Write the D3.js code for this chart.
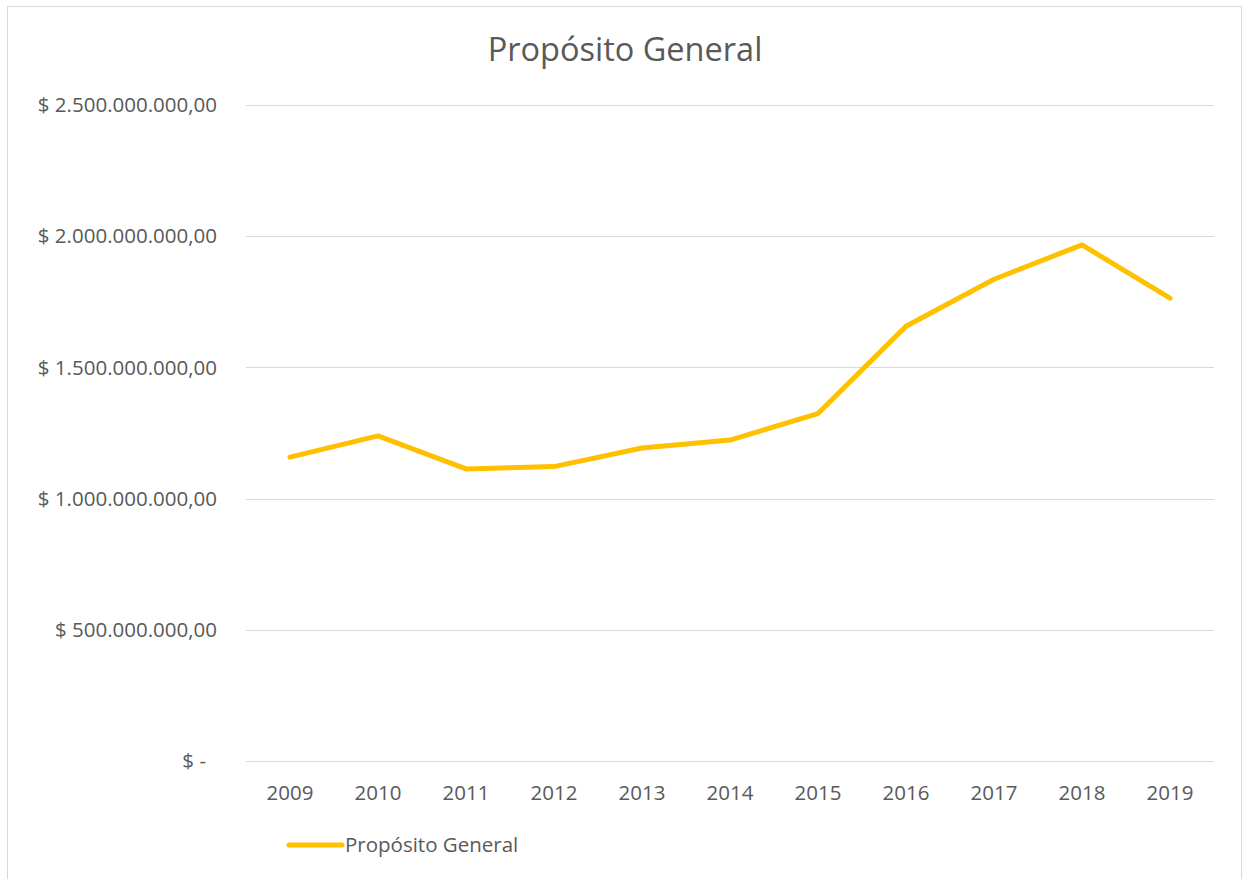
<!DOCTYPE html>
<html>
<head>
<meta charset="utf-8">
<script src="https://cdn.jsdelivr.net/npm/d3@7"></script>
<style>
  body { margin: 0; background: #fff; }
  text { font-family: "Open Sans", "Liberation Sans", sans-serif; fill: #595959; }
</style>
</head>
<body>
<svg></svg>
<script>
const years = ["2009", "2010", "2011", "2012", "2013", "2014", "2015", "2016", "2017", "2018", "2019"];
const values = [1158000000, 1239000000, 1113000000, 1122000000, 1193000000, 1223000000, 1324000000, 1657000000, 1836000000, 1967000000, 1764000000];
const yTicks = [0, 500000000, 1000000000, 1500000000, 2000000000, 2500000000];
const seriesName = "Propósito General";

const width = 1243;
const height = 879;
const margin = {left: 246, right: 29, top: 105, bottom: 118};
const lineColor = "#ffc000";

const svg = d3.select("svg")
    .attr("width", width)
    .attr("height", height);

// chart border
svg.append("rect")
    .attr("x", 7.5)
    .attr("y", 6.5)
    .attr("width", width - 9)
    .attr("height", height + 10)
    .attr("fill", "white")
    .attr("stroke", "#d9d9d9");

const x = d3.scaleBand()
    .domain(years)
    .range([margin.left, width - margin.right]);

const y = d3.scaleLinear()
    .domain([0, 2500000000])
    .range([height - margin.bottom, margin.top]);

const fmt = v => {
    if (v === 0) return "$ -";
    const s = d3.format(",.2f")(v).replace(/,/g, "#").replace(".", ",").replace(/#/g, ".");
    return "$ " + s;
};

// gridlines
svg.append("g")
    .selectAll("line")
    .data(yTicks)
    .enter()
    .append("line")
    .attr("x1", margin.left)
    .attr("x2", width - margin.right)
    .attr("y1", d => Math.round(y(d)) + 0.5)
    .attr("y2", d => Math.round(y(d)) + 0.5)
    .attr("stroke", "#d9d9d9")
    .attr("stroke-width", 1);

// y labels
svg.append("g")
    .selectAll("text")
    .data(yTicks)
    .enter()
    .append("text")
    .attr("x", d => d === 0 ? 206 : 217)
    .attr("y", d => y(d))
    .attr("dy", "0.35em")
    .attr("text-anchor", "end")
    .style("font-size", "20.5px")
    .text(fmt);

// x labels
svg.append("g")
    .selectAll("text")
    .data(years)
    .enter()
    .append("text")
    .attr("x", d => x(d) + x.bandwidth() / 2)
    .attr("y", 793)
    .attr("dy", "0.35em")
    .attr("text-anchor", "middle")
    .style("font-size", "20.5px")
    .text(d => d);

// line
const line = d3.line()
    .x((d, i) => x(years[i]) + x.bandwidth() / 2)
    .y(d => y(d));

svg.append("path")
    .datum(values)
    .attr("d", line)
    .attr("fill", "none")
    .attr("stroke", lineColor)
    .attr("stroke-width", 5)
    .attr("stroke-linecap", "round")
    .attr("stroke-linejoin", "round");

// title
svg.append("text")
    .attr("x", 625)
    .attr("y", 50)
    .attr("dy", "0.35em")
    .attr("text-anchor", "middle")
    .style("font-size", "32.5px")
    .text(seriesName);

// legend
const legend = svg.append("g");
legend.append("line")
    .attr("x1", 289)
    .attr("x2", 342)
    .attr("y1", 845)
    .attr("y2", 845)
    .attr("stroke", lineColor)
    .attr("stroke-width", 5)
    .attr("stroke-linecap", "round");
legend.append("text")
    .attr("x", 345)
    .attr("y", 845)
    .attr("dy", "0.35em")
    .style("font-size", "20.5px")
    .text(seriesName);
</script>
</body>
</html>
